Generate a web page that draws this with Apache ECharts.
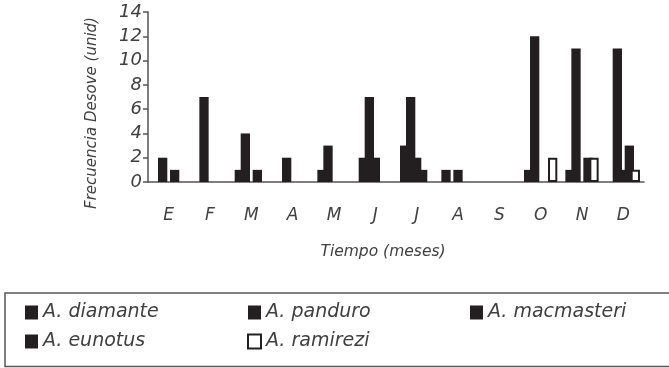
<!DOCTYPE html>
<html>
<head>
<meta charset="utf-8">
<script src="https://cdn.jsdelivr.net/npm/echarts@6/dist/echarts.min.js"></script>
<style>
  html, body { margin: 0; padding: 0; background: #ffffff; }
  #chart { width: 669px; height: 368px; }
</style>
</head>
<body>
<div id="chart"></div>
<script>
// Monthly spawning frequency per species
const months     = ['E', 'F', 'M', 'A', 'M', 'J', 'J', 'A', 'S', 'O', 'N', 'D'];
const diamante   = [0, 0, 1, 0, 1, 2, 3, 1, 0, 1, 1, 0];
const panduro    = [2, 7, 4, 2, 3, 7, 7, 0, 0, 12, 11, 11];
const macmasteri = [0, 0, 0, 0, 0, 2, 2, 1, 0, 0, 0, 1];
const eunotus    = [1, 0, 1, 0, 0, 0, 1, 0, 0, 0, 2, 3];
const ramirezi   = [0, 0, 0, 0, 0, 0, 0, 0, 0, 2, 2, 1];
const yMin = 0, yMax = 14, yStep = 2;

const FONT = '"DejaVu Sans"';
const INK = '#231f20';
const TEXT = '#404040';

const solid = { color: INK };
const hollow = { color: '#ffffff', borderColor: INK, borderWidth: 2 };

function barSeries(name, values, style) {
  return {
    name: name,
    type: 'bar',
    barWidth: 9.3,
    barGap: '-35.5%',
    // zero counts are left empty so no outline is drawn on the axis
    data: values.map(v => (v === 0 ? null : v)),
    itemStyle: style,
    emphasis: { disabled: true }
  };
}

const legendText = { fontFamily: FONT, fontStyle: 'italic', fontSize: 19, color: TEXT, lineHeight: 14 };
function legendColumn(left, names) {
  return {
    left: left, top: 303, padding: 0, orient: 'vertical', itemGap: 10,
    itemWidth: 13, itemHeight: 14, icon: 'rect', selectedMode: false,
    textStyle: legendText, data: names
  };
}

const chart = echarts.init(document.getElementById('chart'), null, { renderer: 'canvas' });
chart.setOption({
  animation: false,
  backgroundColor: '#ffffff',
  grid: { left: 148, right: 25, top: 12, bottom: 186 },
  xAxis: {
    type: 'category',
    data: months,
    axisLine: { lineStyle: { color: '#555555', width: 1.5 } },
    axisTick: { length: 7, lineStyle: { color: '#555555', width: 1.5 } },
    axisLabel: { margin: 25, fontFamily: FONT, fontStyle: 'italic', fontSize: 17, color: TEXT }
  },
  yAxis: {
    type: 'value',
    min: yMin, max: yMax, interval: yStep,
    axisLine: { show: true, lineStyle: { color: '#555555', width: 1.5 } },
    axisTick: { show: true, length: 5, lineStyle: { color: '#555555', width: 1.5 } },
    splitLine: { show: false },
    axisLabel: { margin: 6, fontFamily: FONT, fontStyle: 'italic', fontSize: 18, color: TEXT }
  },
  legend: [
    legendColumn(25, ['A. diamante', 'A. eunotus']),
    legendColumn(247, ['A. panduro', 'A. ramirezi']),
    legendColumn(470, ['A. macmasteri'])
  ],
  series: [
    barSeries('A. diamante', diamante, solid),
    barSeries('A. panduro', panduro, solid),
    barSeries('A. macmasteri', macmasteri, solid),
    barSeries('A. eunotus', eunotus, solid),
    barSeries('A. ramirezi', ramirezi, hollow)
  ],
  graphic: [
    {
      type: 'rect', silent: true,
      shape: { x: 5, y: 293, width: 670, height: 73.5 },
      style: { fill: 'none', stroke: '#555555', lineWidth: 1.5 }
    },
    {
      type: 'text', silent: true,
      x: 92, y: 113, rotation: Math.PI / 2,
      style: {
        text: 'Frecuencia Desove (unid)', align: 'center', verticalAlign: 'middle',
        font: 'italic 15px ' + FONT, fill: TEXT
      }
    },
    {
      type: 'text', silent: true,
      x: 383, y: 252,
      style: {
        text: 'Tiempo (meses)', align: 'center', verticalAlign: 'middle',
        font: 'italic 15.5px ' + FONT, fill: TEXT
      }
    }
  ]
});
</script>
</body>
</html>
